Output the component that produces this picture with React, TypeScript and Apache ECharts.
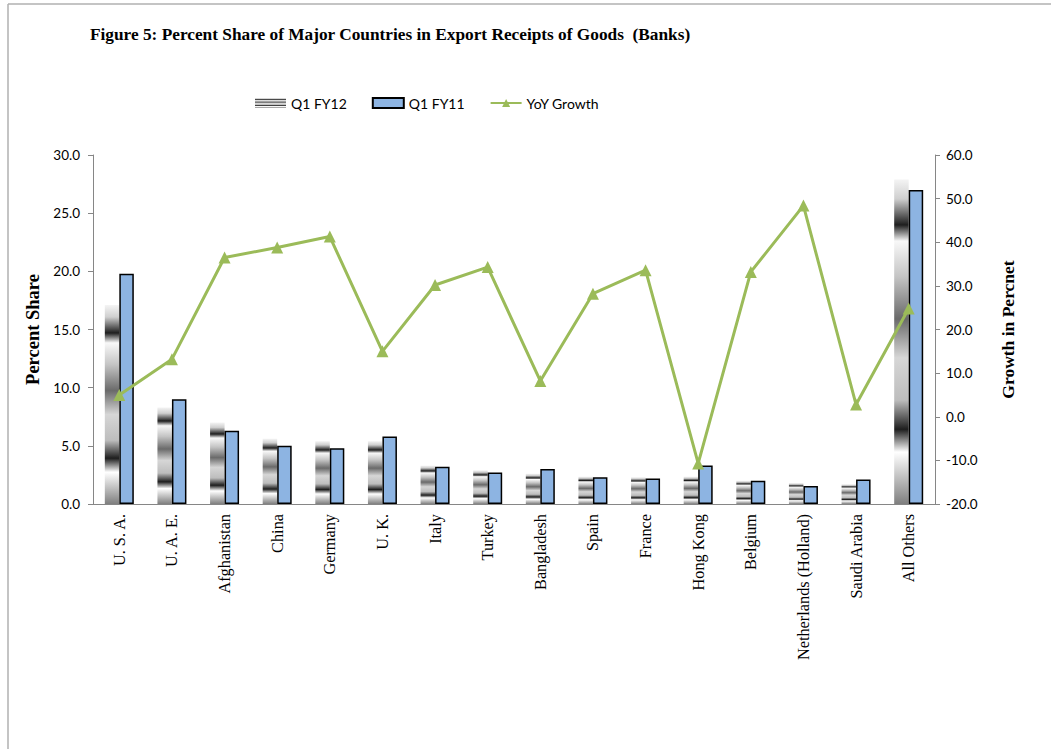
import React, { useEffect, useRef } from "react";
import * as echarts from "echarts";

const categories = [
  "U. S. A.",
  "U. A. E.",
  "Afghanistan",
  "China",
  "Germany",
  "U. K.",
  "Italy",
  "Turkey",
  "Bangladesh",
  "Spain",
  "France",
  "Hong Kong",
  "Belgium",
  "Netherlands (Holland)",
  "Saudi Arabia",
  "All Others",
];

const q1fy12 = [17.1, 8.3, 7.0, 5.6, 5.4, 5.4, 3.3, 2.9, 2.6, 2.35, 2.3, 2.35, 2.0, 1.8, 1.7, 27.9];
const q1fy11 = [19.8, 9.0, 6.3, 5.0, 4.8, 5.8, 3.2, 2.7, 3.0, 2.3, 2.2, 3.3, 2.0, 1.55, 2.1, 27.0];
const yoyGrowth = [5.0, 13.2, 36.5, 38.8, 41.3, 15.0, 30.2, 34.3, 8.2, 28.2, 33.6, -10.7, 33.2, 48.4, 2.8, 24.8];

const leftTicks = { min: 0, max: 30, interval: 5 };
const rightTicks = { min: -20, max: 60, interval: 10 };

const serif = "'Liberation Serif', 'Times New Roman', serif";
const sans = "Lato, 'Liberation Sans', sans-serif";

export default function App() {
  const ref = useRef<HTMLDivElement>(null);

  useEffect(() => {
    if (!ref.current) return;
    const chart = echarts.init(ref.current, undefined, { renderer: "svg" });

    const chrome = new echarts.graphic.LinearGradient(0, 0, 0, 1, [
      { offset: 0, color: "#f4f4f4" },
      { offset: 0.06, color: "#cfcfcf" },
      { offset: 0.14, color: "#1e1e1e" },
      { offset: 0.19, color: "#f8f8f8" },
      { offset: 0.3, color: "#c4c4c4" },
      { offset: 0.43, color: "#6a6a6a" },
      { offset: 0.55, color: "#d6d6d6" },
      { offset: 0.68, color: "#bdbdbd" },
      { offset: 0.77, color: "#1e1e1e" },
      { offset: 0.84, color: "#ffffff" },
      { offset: 1, color: "#7f7f7f" },
    ]);

    chart.setOption({
      animation: false,
      backgroundColor: "#ffffff",
      title: {
        text: "Figure 5: Percent Share of Major Countries in Export Receipts of Goods  (Banks)",
        left: 85,
        top: 21,
        textStyle: {
          fontFamily: serif,
          fontWeight: "bold",
          fontSize: 17.3,
          color: "#000",
        },
      },
      legend: {
        left: 250,
        top: 91,
        itemGap: 25,
        itemWidth: 31,
        itemHeight: 10,
        textStyle: { fontFamily: sans, fontSize: 14, color: "#000" },
        data: [
          { name: "Q1 FY12", icon: "rect" },
          { name: "Q1 FY11", icon: "rect" },
          { name: "YoY Growth" },
        ],
      },
      graphic: [
        { type: "line", shape: { x1: 8, y1: 4, x2: 1051, y2: 4 }, style: { stroke: "#b0b0b0", lineWidth: 1.5 } },
        { type: "line", shape: { x1: 8, y1: 4, x2: 8, y2: 749 }, style: { stroke: "#b0b0b0", lineWidth: 1.5 } },
      ],
      grid: { left: 93, right: 116, top: 155, bottom: 245 },
      xAxis: {
        type: "category",
        data: categories,
        axisLine: { lineStyle: { color: "#868686", width: 1 } },
        axisTick: { show: false },
        axisLabel: {
          rotate: 90,
          interval: 0,
          margin: 10,
          fontFamily: serif,
          fontSize: 16.3,
          color: "#000",
        },
      },
      yAxis: [
        {
          type: "value",
          ...leftTicks,
          name: "Percent Share",
          nameLocation: "middle",
          nameGap: 44,
          nameRotate: 90,
          nameTextStyle: { fontFamily: serif, fontWeight: "bold", fontSize: 18.5, color: "#000" },
          axisLine: { show: true, lineStyle: { color: "#868686" } },
          axisTick: { show: true, length: 5, lineStyle: { color: "#868686" } },
          splitLine: { show: false },
          axisLabel: {
            formatter: (v: number) => v.toFixed(1),
            fontFamily: sans,
            fontSize: 13.5,
            color: "#000",
            margin: 13,
          },
        },
        {
          type: "value",
          ...rightTicks,
          name: "Growth in Percnet",
          nameLocation: "middle",
          nameGap: 64,
          nameRotate: 90,
          nameTextStyle: { fontFamily: serif, fontWeight: "bold", fontSize: 17.5, color: "#000" },
          axisLine: { show: true, lineStyle: { color: "#868686" } },
          axisTick: { show: true, length: 5, lineStyle: { color: "#868686" } },
          splitLine: { show: false },
          axisLabel: {
            formatter: (v: number) => v.toFixed(1),
            fontFamily: sans,
            fontSize: 13.5,
            color: "#000",
            margin: 11,
          },
        },
      ],
      series: [
        {
          name: "Q1 FY12",
          type: "bar",
          data: q1fy12,
          barWidth: 14.5,
          barGap: "0%",
          itemStyle: { color: chrome },
        },
        {
          name: "Q1 FY11",
          type: "bar",
          data: q1fy11,
          barWidth: 14.5,
          barGap: "0%",
          itemStyle: { color: "#8db4e2", borderColor: "#000", borderWidth: 1.5 },
        },
        {
          name: "YoY Growth",
          type: "line",
          yAxisIndex: 1,
          data: yoyGrowth,
          symbol: "triangle",
          symbolSize: 12,
          z: 5,
          lineStyle: { color: "#9bbb59", width: 3 },
          itemStyle: { color: "#9bbb59" },
        },
      ],
    });

    return () => chart.dispose();
  }, []);

  return (
    <div
      ref={ref}
      style={{ position: "absolute", left: 0, top: 0, width: 1051, height: 749 }}
    />
  );
}
